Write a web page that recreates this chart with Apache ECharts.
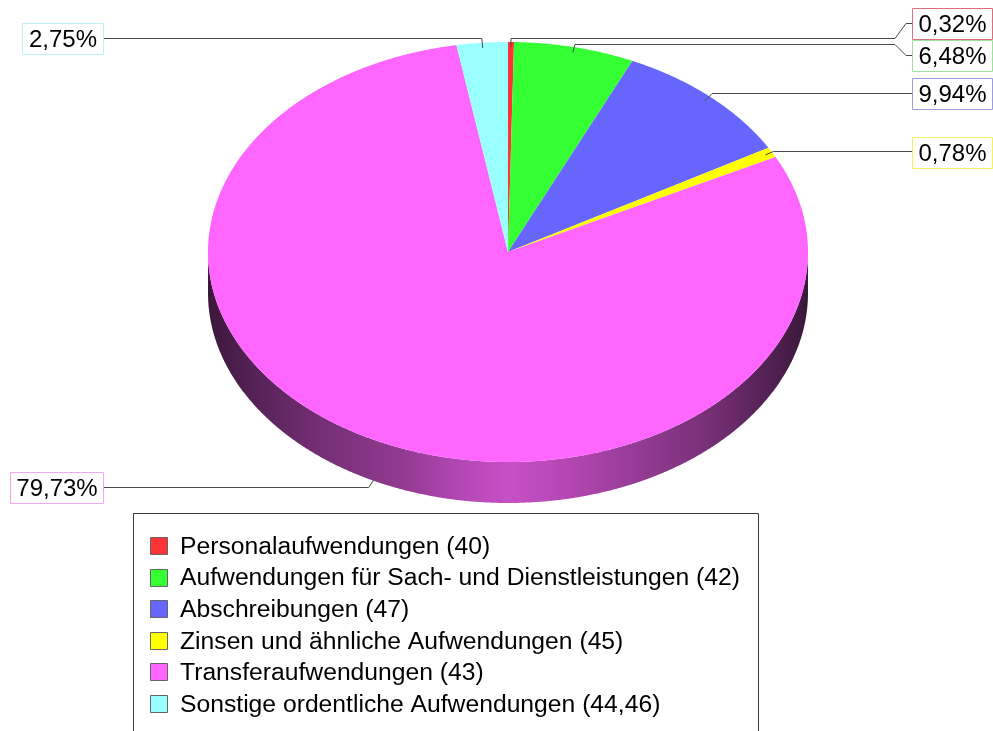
<!DOCTYPE html>
<html><head><meta charset="utf-8">
<script src="https://cdn.jsdelivr.net/npm/echarts@6/dist/echarts.min.js"></script>
<style>html,body{margin:0;padding:0;background:#fff;overflow:hidden}#c{width:993px;height:731px}</style>
</head><body><div id="c"></div>
<script>
// ---- data ----
const categories = [
  'Personalaufwendungen (40)',
  'Aufwendungen für Sach- und Dienstleistungen (42)',
  'Abschreibungen (47)',
  'Zinsen und ähnliche Aufwendungen (45)',
  'Transferaufwendungen (43)',
  'Sonstige ordentliche Aufwendungen (44,46)'
];
const values = [0.32, 6.48, 9.94, 0.78, 79.73, 2.75];

// ---- styles / layout ----
const colors = ['#ff3333', '#33ff33', '#6666ff', '#ffff00', '#ff66ff', '#99ffff'];
const borderColors = ['#d8707c', '#9ee09e', '#9c9ce0', '#f4f060', '#f0a8f0', '#bfeef4'];
const FONT = '"Liberation Sans", Arial, sans-serif';
const PIE = { cx: 508, cy: 252, rx: 300, ry: 210, depth: 41 };
const LABEL_LAYOUT = [
  { box: [912, 8, 80, 31],  runY: 38.5, kneeDx: 0,  bendX: 895, endY: 23.5, side: 'r' },
  { box: [912, 40, 80, 31], runY: 44.5, kneeDx: 2,  bendX: 895, endY: 55.5, side: 'r' },
  { box: [912, 78, 80, 31], runY: 93.5, kneeDx: 7,  side: 'r' },
  { box: [912, 137, 80, 31], runY: 151.5, kneeDx: 8, side: 'r' },
  { box: [10, 472, 93, 31], runY: 487.5, kneeDx: -5, side: 'l' },
  { box: [22, 23, 81, 31],  runY: 38.5, kneeDx: -1, side: 'l' }
];

function fmt(v) { return v.toFixed(2).replace('.', ',') + '%'; }

function shade(hex, f) {
  const n = parseInt(hex.slice(1), 16);
  const r = Math.round(((n >> 16) & 255) * f), g = Math.round(((n >> 8) & 255) * f), b = Math.round((n & 255) * f);
  return 'rgb(' + r + ',' + g + ',' + b + ')';
}
const SHADE_STOPS = [[0, 0.23], [0.05, 0.3], [0.18, 0.45], [0.32, 0.57], [0.42, 0.7], [0.5, 0.78], [0.6, 0.7], [0.72, 0.58], [0.84, 0.46], [0.95, 0.3], [1, 0.23]];

function renderItem(params, api) {
  const i = params.dataIndex;
  const total = values.reduce((a, b) => a + b, 0);
  let before = 0;
  for (let k = 0; k < i; k++) before += values[k];
  const TWO_PI = Math.PI * 2;
  const a0 = before / total * TWO_PI;
  const a1 = (before + api.value(0)) / total * TWO_PI;
  const P = (a, f, dy) => [PIE.cx + PIE.rx * f * Math.sin(a), PIE.cy - PIE.ry * f * Math.cos(a) + (dy || 0)];
  const arc = (s, e, dy) => {
    const n = Math.max(2, Math.ceil((e - s) / 0.004));
    const pts = [];
    for (let j = 0; j <= n; j++) pts.push(P(s + (e - s) * j / n, 1, dy));
    return pts;
  };
  const children = [];
  // side wall (front half only)
  const s = Math.max(a0, Math.PI / 2), e = Math.min(a1, Math.PI * 1.5);
  if (e > s) {
    const pts = arc(s, e, 0).concat(arc(s, e, PIE.depth).reverse());
    children.push({
      type: 'polygon', z2: 1,
      shape: { points: pts },
      style: {
        fill: {
          type: 'linear', global: true,
          x: PIE.cx - PIE.rx, y: 0, x2: PIE.cx + PIE.rx, y2: 0,
          colorStops: SHADE_STOPS.map(st => ({ offset: st[0], color: shade(colors[i], st[1]) }))
        }
      }
    });
  }
  // top face
  children.push({
    type: 'polygon', z2: 2,
    shape: { points: [[PIE.cx, PIE.cy]].concat(arc(a0, a1, 0)) },
    style: { fill: colors[i] }
  });
  // leader line
  const mid = (a0 + a1) / 2;
  const L = LABEL_LAYOUT[i];
  let anchor;
  if (Math.cos(mid) < 0) anchor = P(mid, 1, PIE.depth - 1);
  else anchor = P(mid, 0.975, 0);
  const pts = [anchor, [anchor[0] + L.kneeDx, L.runY]];
  const bx = L.box[0], by = L.box[1], bw = L.box[2], bh = L.box[3];
  if (L.side === 'r') {
    if (L.bendX) {
      pts.push([L.bendX, L.runY]);
      pts.push([L.bendX + 11, L.endY]);
      pts.push([bx, L.endY]);
    } else {
      pts.push([bx, L.runY]);
    }
  } else {
    pts.push([bx + bw, L.runY]);
  }
  children.push({
    type: 'polyline', z2: 5,
    shape: { points: pts },
    style: { stroke: '#4a4a4a', lineWidth: 1, fill: null }
  });
  children.push({
    type: 'rect', z2: 6,
    shape: { x: bx + 0.5, y: by + 0.5, width: bw, height: bh },
    style: { fill: '#ffffff', stroke: borderColors[i], lineWidth: 1 }
  });
  children.push({
    type: 'text', z2: 7,
    x: bx + bw / 2 + 0.5, y: by + bh / 2 + 1.5,
    style: { text: fmt(api.value(0)), fill: '#000', font: '24px ' + FONT, align: 'center', verticalAlign: 'middle' }
  });
  return { type: 'group', children: children };
}

// legend (graphic) built from categories/colors
const legendEls = [{
  type: 'rect', z: 10,
  shape: { x: 133.5, y: 513.5, width: 625, height: 260 },
  style: { fill: '#fff', stroke: '#3a3a3a', lineWidth: 1 }
}];
categories.forEach((name, i) => {
  const yc = 546 + i * 31.6;
  legendEls.push({
    type: 'rect', z: 11,
    shape: { x: 150.5, y: Math.round(yc - 9) + 0.5, width: 17, height: 17 },
    style: { fill: colors[i], stroke: '#666', lineWidth: 1 }
  });
  legendEls.push({
    type: 'text', z: 11,
    x: 180, y: yc + 1,
    style: { text: name, fill: '#000', font: '24.7px ' + FONT, align: 'left', verticalAlign: 'middle' }
  });
});

const chart = echarts.init(document.getElementById('c'), null, { renderer: 'canvas' });
chart.setOption({
  animation: false,
  backgroundColor: '#fff',
  series: [{
    type: 'custom',
    coordinateSystem: 'none',
    silent: true,
    data: values.map((v, i) => ({ name: categories[i], value: v })),
    renderItem: renderItem
  }],
  graphic: legendEls
});
</script>
</body></html>
